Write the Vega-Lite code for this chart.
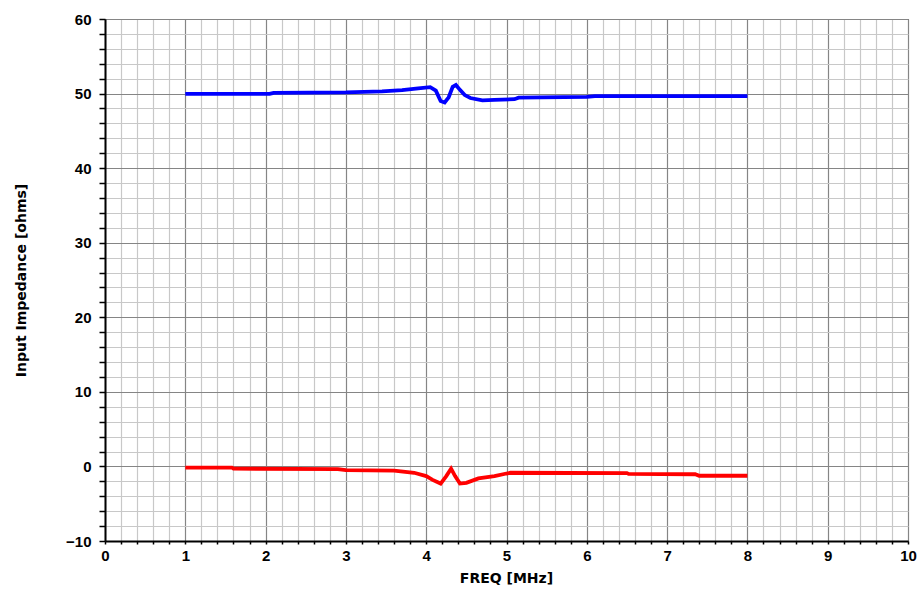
{
  "$schema": "https://vega.github.io/schema/vega-lite/v6.json",
  "width": 803,
  "height": 522,
  "autosize": "none",
  "padding": {"left": 105, "top": 19, "right": 9, "bottom": 49},
  "background": "white",
  "config": {
    "view": {"stroke": "#333333", "strokeWidth": 1},
    "axis": {
      "labelFont": "Liberation Sans",
      "labelFontWeight": "bold",
      "labelFontSize": 15,
      "labelColor": "#000000",
      "titleFont": "DejaVu Sans",
      "titleFontWeight": "bold",
      "titleFontSize": 14,
      "titleColor": "#000000",
      "domainColor": "#000000",
      "domainWidth": 2,
      "tickColor": "#000000",
      "tickWidth": 1.5,
      "gridOpacity": 1
    }
  },
  "data": {
    "values": [
      {"freq": 1.0, "value": 49.95, "part": "Re"},
      {"freq": 2.05, "value": 49.95, "part": "Re"},
      {"freq": 2.1, "value": 50.1, "part": "Re"},
      {"freq": 3.0, "value": 50.15, "part": "Re"},
      {"freq": 3.45, "value": 50.3, "part": "Re"},
      {"freq": 3.7, "value": 50.45, "part": "Re"},
      {"freq": 3.9, "value": 50.7, "part": "Re"},
      {"freq": 4.05, "value": 50.85, "part": "Re"},
      {"freq": 4.12, "value": 50.4, "part": "Re"},
      {"freq": 4.18, "value": 49.0, "part": "Re"},
      {"freq": 4.23, "value": 48.8, "part": "Re"},
      {"freq": 4.28, "value": 49.5, "part": "Re"},
      {"freq": 4.33, "value": 50.9, "part": "Re"},
      {"freq": 4.37, "value": 51.15, "part": "Re"},
      {"freq": 4.42, "value": 50.5, "part": "Re"},
      {"freq": 4.48, "value": 49.8, "part": "Re"},
      {"freq": 4.55, "value": 49.4, "part": "Re"},
      {"freq": 4.7, "value": 49.1, "part": "Re"},
      {"freq": 4.85, "value": 49.15, "part": "Re"},
      {"freq": 5.1, "value": 49.25, "part": "Re"},
      {"freq": 5.15, "value": 49.45, "part": "Re"},
      {"freq": 6.0, "value": 49.55, "part": "Re"},
      {"freq": 6.1, "value": 49.65, "part": "Re"},
      {"freq": 8.0, "value": 49.65, "part": "Re"},
      {"freq": 1.0, "value": -0.15, "part": "Im"},
      {"freq": 1.58, "value": -0.15, "part": "Im"},
      {"freq": 1.6, "value": -0.3, "part": "Im"},
      {"freq": 2.9, "value": -0.35, "part": "Im"},
      {"freq": 3.0, "value": -0.5, "part": "Im"},
      {"freq": 3.6, "value": -0.55, "part": "Im"},
      {"freq": 3.85, "value": -0.85, "part": "Im"},
      {"freq": 4.0, "value": -1.3, "part": "Im"},
      {"freq": 4.08, "value": -1.8, "part": "Im"},
      {"freq": 4.18, "value": -2.3, "part": "Im"},
      {"freq": 4.25, "value": -1.3, "part": "Im"},
      {"freq": 4.31, "value": -0.3, "part": "Im"},
      {"freq": 4.36, "value": -1.3, "part": "Im"},
      {"freq": 4.42, "value": -2.3, "part": "Im"},
      {"freq": 4.5, "value": -2.2, "part": "Im"},
      {"freq": 4.65, "value": -1.6, "part": "Im"},
      {"freq": 4.85, "value": -1.3, "part": "Im"},
      {"freq": 5.0, "value": -0.95, "part": "Im"},
      {"freq": 5.05, "value": -0.85, "part": "Im"},
      {"freq": 6.5, "value": -0.9, "part": "Im"},
      {"freq": 6.52, "value": -1.0, "part": "Im"},
      {"freq": 7.35, "value": -1.05, "part": "Im"},
      {"freq": 7.4, "value": -1.25, "part": "Im"},
      {"freq": 8.0, "value": -1.25, "part": "Im"}
    ]
  },
  "mark": {"type": "line", "strokeWidth": 3.8, "interpolate": "linear"},
  "encoding": {
    "x": {
      "field": "freq",
      "type": "quantitative",
      "scale": {"domain": [0, 10], "nice": false, "zero": false},
      "axis": {
        "title": "FREQ [MHz]",
        "titleX": 401,
        "titleY": 37,
        "titleAlign": "center",
        "titleBaseline": "middle",
        "values": [0,0.2,0.4,0.6,0.8,1,1.2,1.4,1.6,1.8,2,2.2,2.4,2.6,2.8,3,3.2,3.4,3.6,3.8,4,4.2,4.4,4.6,4.8,5,5.2,5.4,5.6,5.8,6,6.2,6.4,6.6,6.8,7,7.2,7.4,7.6,7.8,8,8.2,8.4,8.6,8.8,9,9.2,9.4,9.6,9.8,10],
        "labelExpr": "abs(datum.value - round(datum.value)) < 0.01 ? format(datum.value, 'd') : ''",
        "labelFlush": false,
        "labelOverlap": false,
        "tickSize": 3,
        "labelPadding": 4,
        "grid": true,
        "gridColor": {"condition": {"test": "abs(datum.value - round(datum.value)) < 0.01", "value": "#858585"}, "value": "#c8c8c8"},
        "gridWidth": 1.2
      }
    },
    "y": {
      "field": "value",
      "type": "quantitative",
      "scale": {"domain": [-10, 60], "nice": false, "zero": false},
      "axis": {
        "title": "Input Impedance [ohms]",
        "titleAngle": -90,
        "titleX": -84,
        "titleY": 261,
        "titleAlign": "center",
        "titleBaseline": "middle",
        "values": [-10,-8,-6,-4,-2,0,2,4,6,8,10,12,14,16,18,20,22,24,26,28,30,32,34,36,38,40,42,44,46,48,50,52,54,56,58,60],
        "labelExpr": "datum.value % 10 === 0 ? format(datum.value, 'd') : ''",
        "labelFlush": false,
        "labelOverlap": false,
        "tickSize": 6,
        "labelPadding": 8,
        "grid": true,
        "gridColor": {"condition": {"test": "datum.value % 10 === 0", "value": "#858585"}, "value": "#c8c8c8"},
        "gridWidth": 1.2
      }
    },
    "color": {
      "field": "part",
      "type": "nominal",
      "scale": {"domain": ["Re", "Im"], "range": ["#0000ff", "#ff0000"]},
      "legend": null
    }
  }
}
